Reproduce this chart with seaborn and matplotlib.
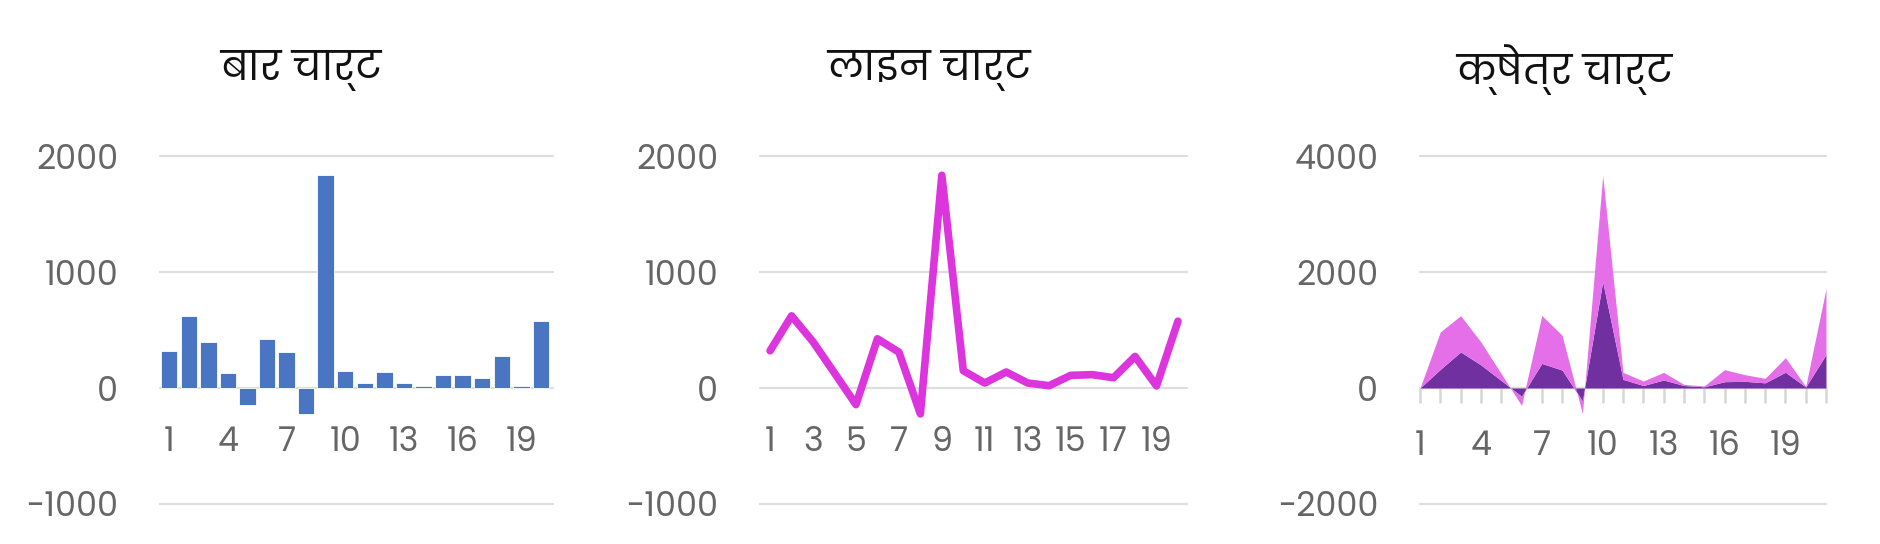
import numpy as np
import pandas as pd
import matplotlib
matplotlib.use('Agg')
import matplotlib.pyplot as plt
import seaborn as sns

# ---- DATA ----
categories = [str(i) for i in range(1, 21)]
bar_values = [321, 622, 398, 129, -143, 424, 309, -223, 1834, 149,
              43, 138, 43, 20, 109, 115, 89, 272, 18, 576]
line_values = [321, 622, 398, 129, -143, 424, 309, -223, 1834, 149,
               43, 138, 43, 20, 109, 115, 89, 272, 18, 576]
# area chart has 21 points, the first one at zero
area_x = list(range(1, 22))
area_dark = [0, 321, 622, 398, 129, -143, 424, 309, -223, 1834, 149,
             43, 138, 43, 20, 109, 115, 89, 272, 18, 576]
area_light = [0, 645, 626, 395, 118, -157, 826, 601, -217, 1826, 121,
              77, 132, 20, 15, 207, 115, 78, 251, 9, 1137]

titles = ['बार चार्ट', 'लाइन चार्ट', 'क्षेत्र चार्ट']

BAR_COLOR = '#4a75c3'
LINE_COLOR = '#dd35de'
DARK_COLOR = '#7030a0'
LIGHT_COLOR = '#e46fe8'
GRID_COLOR = '#dddddd'
LABEL_COLOR = '#666666'

sns.set_theme(style='white')
plt.rcParams['font.family'] = ['Poppins', 'DejaVu Sans']
plt.rcParams['axes.unicode_minus'] = False

W, H = 1880, 544
fig = plt.figure(figsize=(W / 100, H / 100), dpi=100)


def px_axes(left, right, top, bottom):
    return fig.add_axes([left / W, 1 - bottom / H, (right - left) / W, (bottom - top) / H])


def style_axis(ax, ymin, ymax, step, tick_len=0, pad=27):
    ax.set_ylim(ymin, ymax)
    ax.set_yticks(np.arange(ymin, ymax + 1, step))
    ax.yaxis.grid(True, color=GRID_COLOR, linewidth=1.6)
    ax.set_axisbelow(True)
    for s in ['top', 'right', 'left']:
        ax.spines[s].set_visible(False)
    ax.spines['bottom'].set_position(('data', 0))
    ax.spines['bottom'].set_visible(False)
    ax.tick_params(axis='y', left=False, length=0, pad=30, labelsize=24, labelcolor=LABEL_COLOR)
    ax.tick_params(axis='x', bottom=True, length=tick_len, width=1.8, color='#d6d6d6',
                   pad=pad, labelsize=24, labelcolor=LABEL_COLOR)
    ax.set_xlabel('')
    ax.set_ylabel('')
    for g in ax.get_ygridlines():
        g.set_clip_on(False)


# ---- BAR CHART ----
ax1 = px_axes(160, 553, 156, 504)
df_bar = pd.DataFrame({'cat': categories, 'value': bar_values})
sns.barplot(data=df_bar, x='cat', y='value', color=BAR_COLOR, saturation=1,
            width=0.84, edgecolor='white', linewidth=0.6, ax=ax1)
ax1.set_xlim(-0.47, 19.62)
style_axis(ax1, -1000, 2000, 1000)
ax1.set_xticks(range(0, 20, 3))
ax1.set_xticklabels(categories[::3])

# ---- LINE CHART ----
ax2 = px_axes(760, 1187, 156, 504)
df_line = pd.DataFrame({'x': range(1, 21), 'value': line_values})
sns.lineplot(data=df_line, x='x', y='value', color=LINE_COLOR, lw=5.5,
             solid_capstyle='round', solid_joinstyle='round', ax=ax2)
ax2.set_xlim(0.53, 20.42)
style_axis(ax2, -1000, 2000, 1000)
ax2.set_xticks(range(1, 20, 2))
ax2.set_xticklabels([str(i) for i in range(1, 20, 2)])

# ---- AREA CHART ----
ax3 = px_axes(1420, 1826, 156, 504)
ax3.stackplot(area_x, area_dark, area_light, colors=[DARK_COLOR, LIGHT_COLOR], linewidth=0)
ax3.set_xlim(1, 21)
style_axis(ax3, -2000, 4000, 2000, tick_len=11, pad=19)
ax3.set_xticks(area_x)
ax3.set_xticklabels([str(i) if (i - 1) % 3 == 0 and i < 20 else '' for i in area_x])
ax3.axhline(0, color=GRID_COLOR, linewidth=1.6, zorder=0)

# ---- TITLES ----
for cx, t in zip([301, 929, 1564], titles):
    fig.text(cx / W, 1 - 70 / H, t, ha='center', va='center', fontsize=29,
             color='#111111')

fig.savefig('out.png', dpi=100)
